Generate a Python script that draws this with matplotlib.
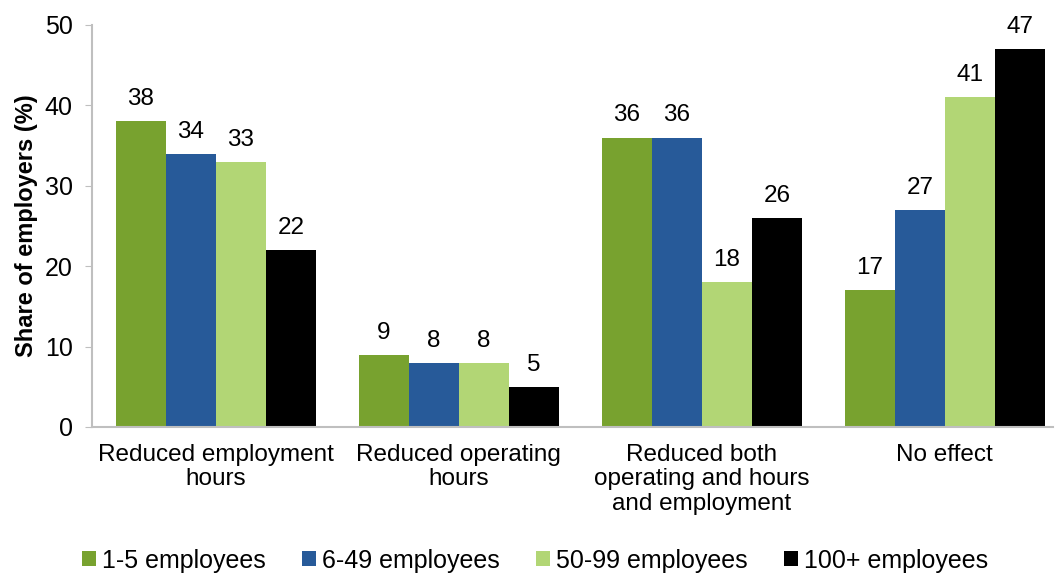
import numpy as np
import matplotlib.pyplot as plt

plt.rcParams['font.family'] = ['Liberation Sans', 'DejaVu Sans']

categories = ['Reduced employment\nhours', 'Reduced operating\nhours',
              'Reduced both\noperating and hours\nand employment', 'No effect']
series = ['1-5 employees', '6-49 employees', '50-99 employees', '100+ employees']
v_1_5 = [38, 9, 36, 17]
v_6_49 = [34, 8, 36, 27]
v_50_99 = [33, 8, 18, 41]
v_100 = [22, 5, 26, 47]
colors = ['#78A22F', '#275A99', '#B2D675', '#000000']


def main():
    fig = plt.figure(figsize=(10.55, 5.75), dpi=100)
    ax = fig.add_axes([92 / 1055, 1 - 427 / 575, (1053 - 92) / 1055, (427 - 25) / 575])

    x = np.arange(len(categories))
    w = 0.206
    data = [v_1_5, v_6_49, v_50_99, v_100]
    for i, (vals, name, c) in enumerate(zip(data, series, colors)):
        pos = x + (i - 1.5) * w
        bars = ax.bar(pos, vals, w, color=c, label=name)
        for b, v in zip(bars, vals):
            ax.annotate(str(v), (b.get_x() + b.get_width() / 2, v),
                        xytext=(0, 8), textcoords='offset points',
                        ha='center', va='bottom', fontsize=17.5)

    ax.set_xlim(-0.51, 3.445)
    ax.set_ylim(0, 50)
    ax.set_yticks(range(0, 51, 10))
    ax.tick_params(axis='y', labelsize=18, length=5, color='#BFBFBF', pad=9)
    ax.tick_params(axis='x', length=0, labelsize=17.5, pad=12)
    ax.set_xticks(x)
    ax.set_xticklabels(categories, linespacing=1.15)
    for s in ['top', 'right']:
        ax.spines[s].set_visible(False)
    for s in ['left', 'bottom']:
        ax.spines[s].set_color('#BFBFBF')
        ax.spines[s].set_linewidth(1.5)
    ax.set_ylabel('Share of employers (%)', fontsize=17, fontweight='bold', labelpad=5)

    fig.legend(loc='lower center', bbox_to_anchor=(0.507, -0.035), ncol=4, frameon=False,
               fontsize=18, handlelength=0.55, handleheight=0.55, handletextpad=0.25,
               columnspacing=1.45)

    fig.savefig('out.png', dpi=100)


if __name__ == '__main__':
    main()
